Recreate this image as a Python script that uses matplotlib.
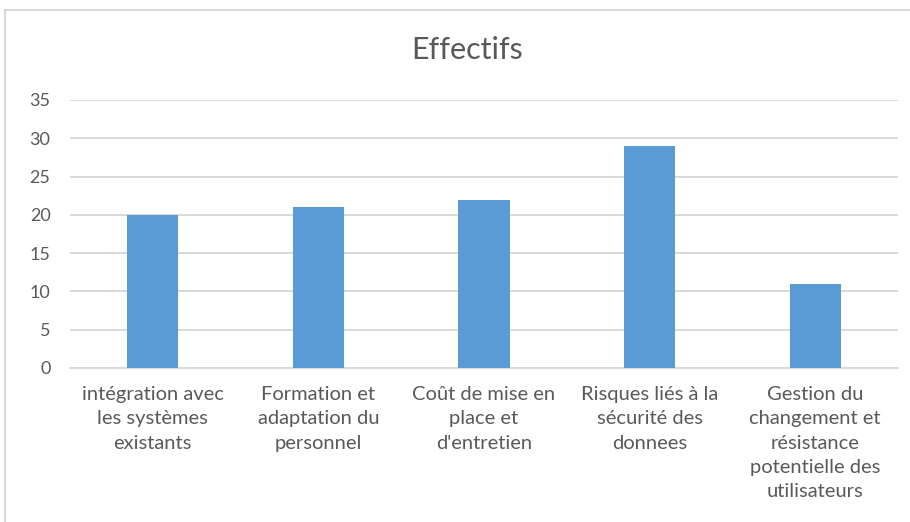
import matplotlib.pyplot as plt
from matplotlib.patches import Rectangle

# Data
categories = [
    "intégration avec\nles systèmes\nexistants",
    "Formation et\nadaptation du\npersonnel",
    "Coût de mise en\nplace et\nd'entretien",
    "Risques liés à la\nsécurité des\ndonnees",
    "Gestion du\nchangement et\nrésistance\npotentielle des\nutilisateurs",
]
values = [20, 21, 22, 29, 11]
yticks = [0, 5, 10, 15, 20, 25, 30, 35]

plt.rcParams['font.family'] = ['Lato', 'DejaVu Sans']

W, H = 910, 522
fig = plt.figure(figsize=(W / 100, H / 100), dpi=100)
ax = fig.add_axes([70 / W, 1 - 368 / H, (898 - 70) / W, (368 - 100) / H])

# chart frame (runs off the right and bottom edges)
fig.patches.append(Rectangle((5 / W, -0.1), 1.2, 1.1 - 10 / H,
                             transform=fig.transFigure, fill=False,
                             edgecolor='#d9d9d9', linewidth=1.5))

x = range(len(values))
ax.bar(x, values, width=0.31, color='#5b9bd5', zorder=3)

ax.set_xlim(-0.5, len(values) - 0.5)
ax.set_ylim(0, 35)
ax.set_yticks(yticks)
ax.set_xticks(list(x))
ax.set_xticklabels(categories, linespacing=1.52, fontsize=14.5)
ax.grid(axis='y', color='#d9d9d9', linewidth=1.4, zorder=0)
for s in ['top', 'right', 'left']:
    ax.spines[s].set_visible(False)
ax.spines['bottom'].set_color('#d9d9d9')
ax.spines['bottom'].set_linewidth(1.4)
ax.tick_params(axis='both', length=0, colors='#595959')
ax.tick_params(axis='y', pad=14, labelsize=13)
ax.tick_params(axis='x', pad=13)

fig.text(467 / W, 1 - 50 / H, "Effectifs", ha='center', va='center',
         fontsize=22, color='#595959')

fig.savefig('out.png', dpi=100)
